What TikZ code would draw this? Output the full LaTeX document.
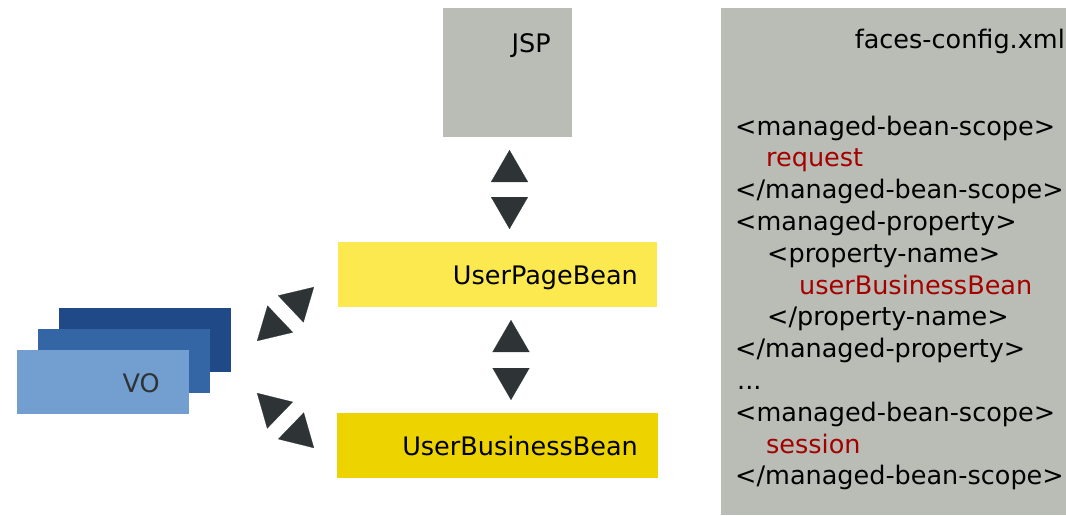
\documentclass[tikz,border=0pt]{standalone}
\usepackage{fontspec}
\setmainfont{DejaVu Sans}
\usetikzlibrary{arrows.meta}
\definecolor{alu}{HTML}{BABDB6}
\definecolor{butterA}{HTML}{FCE94F}
\definecolor{butterB}{HTML}{EDD400}
\definecolor{skyA}{HTML}{729FCF}
\definecolor{skyB}{HTML}{3465A4}
\definecolor{skyC}{HTML}{204A87}
\definecolor{dark}{HTML}{2E3436}
\definecolor{xmlred}{HTML}{A40000}
\begin{document}
\begin{tikzpicture}[x=1pt,y=-1pt,
  box/.style={draw=none, inner sep=0pt, outer sep=0pt, anchor=north west},
  lbl/.style={anchor=base east, inner sep=0pt, font=\fontsize{25.5pt}{31.8pt}\selectfont},
  code/.style={anchor=base west, inner sep=0pt, font=\fontsize{25.5pt}{31.8pt}\selectfont},
  hl/.style={text=xmlred},
  dbl/.style={draw=white, line width=0.2pt,
    {Triangle[length=32pt,width=37pt,color=dark]}-{Triangle[length=32pt,width=37pt,color=dark]}},
  gap/.style={shorten <=#1, shorten >=#1}]
\useasboundingbox (0,0) rectangle (1066,515);
% boxes
\node[box, fill=alu, minimum width=129pt, minimum height=129pt] (jsp) at (443,8) {};
\node[lbl] (jspt) at (551,52) {JSP};
\node[box, fill=butterA, minimum width=319pt, minimum height=65pt] (upb) at (338,242) {};
\node[lbl] (upbt) at (638,284) {UserPageBean};
\node[box, fill=butterB, minimum width=321pt, minimum height=65pt] (ubb) at (337,413) {};
\node[lbl] (ubbt) at (638,455) {UserBusinessBean};
% VO stack
\node[box, fill=skyC, minimum width=172pt, minimum height=64pt] (voC) at (59,308) {};
\node[box, fill=skyB, minimum width=172pt, minimum height=64pt] (voB) at (38,329) {};
\node[box, fill=skyA, minimum width=172pt, minimum height=64pt] (voA) at (17,350) {};
\node[lbl, text=dark] (vot) at (160,392) {VO};
% config panel
\node[box, fill=alu, minimum width=345pt, minimum height=507pt] (cfg) at (721,8) {};
\node[lbl] (cfgt) at (1065,48) {faces-config.xml};
\node[code] (l1) at (735,135) {<managed-bean-scope>};
\node[code, hl] (l2) at (766,166.8) {request};
\node[code] (l3) at (735,198.6) {</managed-bean-scope>};
\node[code] (l4) at (735,230.4) {<managed-property>};
\node[code] (l5) at (767,262.2) {<property-name>};
\node[code, hl] (l6) at (799,294) {userBusinessBean};
\node[code] (l7) at (767,325.8) {</property-name>};
\node[code] (l8) at (735,357.6) {</managed-property>};
\node[code] (l9) at (737,389.4) {...};
\node[code] (l10) at (735,421.2) {<managed-bean-scope>};
\node[code, hl] (l11) at (766,453) {session};
\node[code] (l12) at (735,484.8) {</managed-bean-scope>};
% connectors
\draw[dbl, gap=13pt] ([xshift=2pt]jsp.south) -- ([xshift=2pt]jsp.south |- upb.north);
\draw[dbl, gap=13pt] ([xshift=13.5pt]upb.south) -- ([xshift=13.5pt]upb.south |- ubb.north);
\coordinate (d1a) at (257,341);
\coordinate (d1b) at (314,287);
\coordinate (d2a) at (257,393);
\coordinate (d2b) at (314,448);
\draw[dbl] (d1a) -- (d1b);
\draw[dbl] (d2a) -- (d2b);
\end{tikzpicture}
\end{document}
